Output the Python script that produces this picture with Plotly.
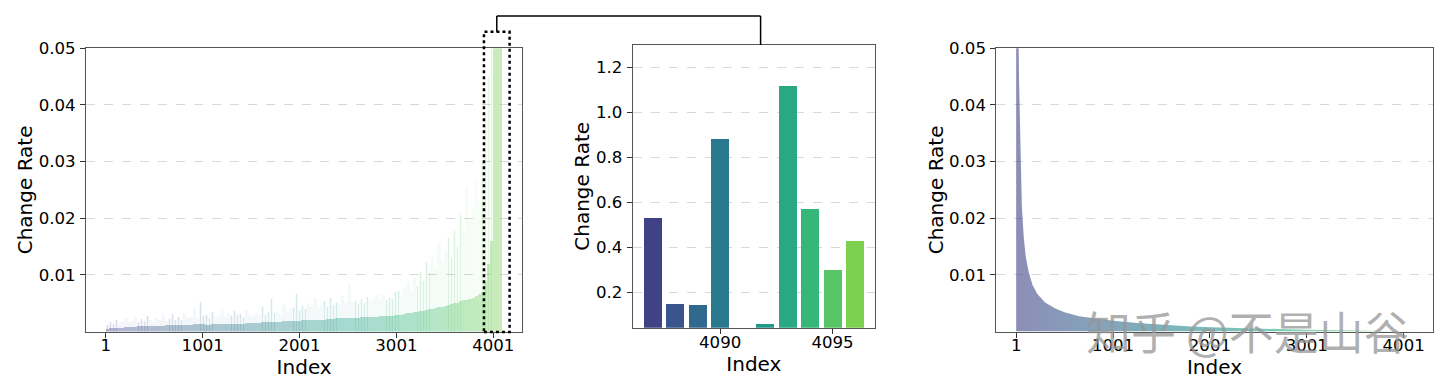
import plotly.graph_objects as go
from plotly.colors import sample_colorscale

# ---------------- data ----------------
N_TOTAL = 4096
BIN = 32  # indices per estimated bin in the full view

# estimated tallest spike in each 32-index bin (x 1e-3)
peak_e3 = [
    1.2, 1.6, 1.4, 2.0, 1.5, 1.8, 2.3, 1.6, 1.9, 2.6, 1.7, 2.2, 1.8, 2.8, 2.0, 1.7,
    2.4, 2.0, 2.9, 1.8, 2.2, 3.1, 2.1, 2.5, 2.0, 3.3, 2.3, 2.6, 4.2, 2.4, 5.2, 2.7,
    3.0, 2.4, 3.5, 2.6, 2.8, 4.0, 2.5, 3.2, 2.7, 3.6, 2.9, 3.1, 2.6, 3.8, 3.0, 2.8,
    3.3, 3.0, 4.4, 2.9, 3.5, 5.8, 3.2, 3.7, 3.1, 4.6, 3.4, 3.9, 4.2, 6.6, 3.8, 4.5,
    4.0, 5.0, 4.4, 6.0, 4.2, 4.8, 5.4, 4.3, 5.9, 4.6, 5.1, 4.7, 6.3, 5.0, 8.6, 5.2,
    5.4, 4.9, 5.8, 5.1, 6.1, 5.3, 5.7, 6.4, 5.5, 6.6, 5.6, 6.0, 5.8, 6.9, 7.2, 6.3,
    7.5, 8.8, 7.0, 9.6, 8.1, 10.5, 9.0, 12.2, 10.4, 13.5, 11.0, 15.7, 12.5, 14.0, 16.5, 13.2,
    17.8, 15.0, 20.5, 18.0, 25.5, 19.5, 22.0, 26.5, 23.0, 30.0, 38.0, 45.0, 60.0, 85.0, 95.0, 120.0,
]

# estimated dense (typical) level in each 32-index bin (x 1e-3)
band_e3 = [
    0.5, 0.6, 0.6, 0.7, 0.7, 0.7, 0.8, 0.8, 0.8, 0.8, 0.9, 0.9, 0.9, 0.9, 1.0, 1.0,
    1.0, 1.0, 1.0, 1.1, 1.1, 1.1, 1.1, 1.2, 1.2, 1.2, 1.2, 1.2, 1.3, 1.3, 1.3, 1.3,
    1.2, 1.2, 1.3, 1.3, 1.3, 1.3, 1.4, 1.3, 1.3, 1.4, 1.4, 1.4, 1.4, 1.5, 1.5, 1.5,
    1.5, 1.5, 1.6, 1.6, 1.6, 1.7, 1.6, 1.7, 1.7, 1.8, 1.8, 1.8, 1.9, 1.9, 1.9, 2.0,
    2.0, 2.0, 2.0, 2.1, 2.1, 2.1, 2.1, 2.2, 2.2, 2.2, 2.3, 2.3, 2.3, 2.3, 2.4, 2.4,
    2.4, 2.4, 2.5, 2.5, 2.5, 2.6, 2.6, 2.6, 2.7, 2.7, 2.7, 2.8, 2.8, 2.9, 3.0, 3.0,
    3.1, 3.2, 3.3, 3.4, 3.5, 3.6, 3.7, 3.8, 3.9, 4.0, 4.1, 4.3, 4.4, 4.5, 4.7, 4.8,
    5.0, 5.1, 5.3, 5.5, 5.6, 5.8, 6.0, 6.3, 6.6, 7.0, 9.0, 12.0, 16.0, 60.0, 60.0, 60.0,
]

# zoomed-in tail (middle panel)
zoom_idx = [4087, 4088, 4089, 4090, 4091, 4092, 4093, 4094, 4095, 4096]
zoom_vals = [0.533, 0.148, 0.145, 0.884, 0.043, 0.059, 1.116, 0.569, 0.299, 0.428]

# sorted (descending) change rate (right panel)
sorted_rank = [1, 2, 3, 4, 5, 6, 8, 12, 20, 30, 45, 60, 80, 100, 130, 170, 220, 300,
               400, 500, 650, 800, 1000, 1250, 1500, 1800, 2100, 2500, 3000, 3500, 4000, 4096]
sorted_vals = [1.116, 0.884, 0.569, 0.533, 0.428, 0.299, 0.15, 0.10, 0.062, 0.045, 0.030,
               0.022, 0.0165, 0.0132, 0.0105, 0.0082, 0.0066, 0.0051, 0.0041, 0.0034, 0.0027,
               0.0023, 0.0019, 0.0015, 0.0012, 0.0009, 0.0007, 0.0005, 0.0003, 0.00018,
               0.00008, 0.00002]

full_xticks = [1, 1001, 2001, 3001, 4001]
full_yticks = [0.01, 0.02, 0.03, 0.04, 0.05]
full_yticklabels = ["0.01", "0.02", "0.03", "0.04", "0.05"]
zoom_xticks = [4090, 4095]
zoom_yticks = [0.2, 0.4, 0.6, 0.8, 1.0, 1.2]
zoom_yticklabels = ["0.2", "0.4", "0.6", "0.8", "1.0", "1.2"]

# ---------------- styling helpers ----------------
FONT = "DejaVu Sans"
W, H = 1440, 392

def viridis_t(idx):
    return 0.2 + 0.6 * (idx - 1) / (N_TOTAL - 1)

def colors_for(indices):
    return sample_colorscale("Viridis", [viridis_t(i) for i in indices])

bin_centers = [BIN * i + (BIN + 1) / 2 for i in range(len(peak_e3))]
bin_colors = colors_for(bin_centers)

# domains (paper) and ranges
dom_L_x = [86 / W, 522.3 / W]
dom_M_x = [632.7 / W, 875 / W]
dom_R_x = [996.3 / W, 1432.7 / W]
dom_LR_y = [1 - 331.5 / H, 1 - 48.3 / H]
dom_M_y = [1 - 327.7 / H, 1 - 45 / H]

rng_full_x = [-204, 4301]
rng_full_y = [0, 0.05]
rng_zoom_x = [4086.11, 4096.89]
rng_zoom_y = [0.043, 1.3]

def to_paper(v, dom, rng):
    return dom[0] + (v - rng[0]) / (rng[1] - rng[0]) * (dom[1] - dom[0])

fig = go.Figure()

# ---- left: full view ----
fig.add_trace(go.Bar(
    x=bin_centers, y=[v / 1000 for v in band_e3], width=BIN,
    marker=dict(color=bin_colors, line=dict(width=0)), opacity=0.36,
    xaxis="x", yaxis="y", hoverinfo="skip"))
fig.add_trace(go.Bar(
    x=bin_centers, y=[v / 1000 for v in peak_e3], width=BIN,
    marker=dict(color=bin_colors, line=dict(width=0)), opacity=0.05,
    xaxis="x", yaxis="y", hoverinfo="skip"))
fig.add_trace(go.Bar(
    x=bin_centers, y=[v / 1000 for v in peak_e3], width=5,
    marker=dict(color=bin_colors, line=dict(width=0)), opacity=0.15,
    xaxis="x", yaxis="y", hoverinfo="skip"))
fig.add_trace(go.Bar(
    x=zoom_idx, y=zoom_vals, width=0.8,
    marker=dict(color=colors_for(zoom_idx), line=dict(width=0)), opacity=0.4,
    xaxis="x", yaxis="y", hoverinfo="skip"))

# ---- middle: zoomed tail ----
zoom_colors = sample_colorscale("Viridis", [0.2 + 0.6 * k / (len(zoom_idx) - 1) for k in range(len(zoom_idx))])
fig.add_trace(go.Bar(
    x=zoom_idx, y=zoom_vals, width=0.8,
    marker=dict(color=zoom_colors, line=dict(width=0)),
    xaxis="x2", yaxis="y2"))

# ---- right: sorted ----
def rgba(c, a):
    c = c.replace("rgb(", "").replace(")", "")
    r, g, b = [float(s) for s in c.split(",")]
    return f"rgba({int(round(r))},{int(round(g))},{int(round(b))},{a})"

grad_stops = [k / 6 for k in range(7)]
grad_cols = sample_colorscale("Viridis", [0.2 + 0.6 * s for s in grad_stops])
fig.add_trace(go.Scatter(
    x=sorted_rank, y=sorted_vals, mode="lines", line=dict(width=0),
    fill="tozeroy",
    fillgradient=dict(type="horizontal",
                      colorscale=[[s, rgba(c, 0.6)] for s, c in zip(grad_stops, grad_cols)]),
    xaxis="x3", yaxis="y3", hoverinfo="skip"))

# ---- axes ----
tickfont = dict(family=FONT, size=16.6, color="black")
titlefont = dict(family=FONT, size=20, color="black")
base = dict(showline=True, mirror=True, linecolor="#555", linewidth=1,
            ticks="outside", ticklen=5, tickwidth=1, tickcolor="#333",
            tickfont=tickfont, zeroline=False, showgrid=False, fixedrange=True,
            automargin=False)
xb = dict(base, ticklabelstandoff=-6)
yb = dict(base, ticklabelstandoff=1, showgrid=True, gridcolor="#d0d0d0",
          griddash="dash", gridwidth=0.8)

fig.update_layout(
    xaxis=dict(xb, domain=dom_L_x, range=rng_full_x, anchor="y",
               tickvals=full_xticks, ticktext=[str(t) for t in full_xticks],
               title=dict(text="Index", font=titlefont, standoff=0)),
    yaxis=dict(yb, domain=dom_LR_y, range=rng_full_y, anchor="x",
               tickvals=full_yticks, ticktext=full_yticklabels,
               title=dict(text="Change Rate", font=titlefont, standoff=0)),
    xaxis2=dict(xb, domain=dom_M_x, range=rng_zoom_x, anchor="y2",
                tickvals=zoom_xticks, ticktext=[str(t) for t in zoom_xticks],
                title=dict(text="Index", font=titlefont, standoff=0)),
    yaxis2=dict(yb, domain=dom_M_y, range=rng_zoom_y, anchor="x2",
                tickvals=zoom_yticks, ticktext=zoom_yticklabels,
                title=dict(text="Change Rate", font=titlefont, standoff=0)),
    xaxis3=dict(xb, domain=dom_R_x, range=rng_full_x, anchor="y3",
                tickvals=full_xticks, ticktext=[str(t) for t in full_xticks],
                title=dict(text="Index", font=titlefont, standoff=0)),
    yaxis3=dict(yb, domain=dom_LR_y, range=rng_full_y, anchor="x3",
                tickvals=full_yticks, ticktext=full_yticklabels,
                title=dict(text="Change Rate", font=titlefont, standoff=0)),
)

# ---- dotted highlight box and connector ----
box_x0, box_x1 = 3905, 4170
box_xc = (box_x0 + box_x1) / 2
box_top = to_paper(0.0529, dom_LR_y, rng_full_y)
box_bot = to_paper(-0.0001, dom_LR_y, rng_full_y)
link_y = 1 - 16 / H
link_x2 = 4091.8

fig.add_shape(type="rect", xref="x", yref="paper", x0=box_x0, x1=box_x1,
              y0=box_bot, y1=box_top, line=dict(color="black", width=2.5, dash="dot"),
              fillcolor="rgba(0,0,0,0)")
fig.add_shape(type="line", xref="x", yref="paper", x0=box_xc, x1=box_xc,
              y0=box_top, y1=link_y, line=dict(color="black", width=1.5))
fig.add_shape(type="line", xref="paper", yref="paper",
              x0=to_paper(box_xc, dom_L_x, rng_full_x),
              x1=to_paper(link_x2, dom_M_x, rng_zoom_x),
              y0=link_y, y1=link_y, line=dict(color="black", width=1.5))
fig.add_shape(type="line", xref="x2", yref="paper", x0=link_x2, x1=link_x2,
              y0=link_y, y1=dom_M_y[1], line=dict(color="black", width=1.5))

# watermark present on the source image
fig.add_annotation(text="知乎 @不是山谷", xref="paper", yref="paper",
                   x=1247 / W, y=1 - 330 / H, xanchor="center", yanchor="middle",
                   showarrow=False,
                   font=dict(family="Noto Sans CJK SC", size=45, color="rgba(150,150,150,0.75)"))

fig.update_layout(
    width=W, height=H, margin=dict(l=0, r=0, t=0, b=0, autoexpand=False),
    plot_bgcolor="white", paper_bgcolor="white",
    barmode="overlay", bargap=0, bargroupgap=0,
    showlegend=False, font=dict(family=FONT),
)

fig.write_html("out.html",
               config={"displayModeBar": False, "staticPlot": True},
               post_script="document.body.style.margin='0px';"
                           "document.documentElement.style.overflow='hidden';")
